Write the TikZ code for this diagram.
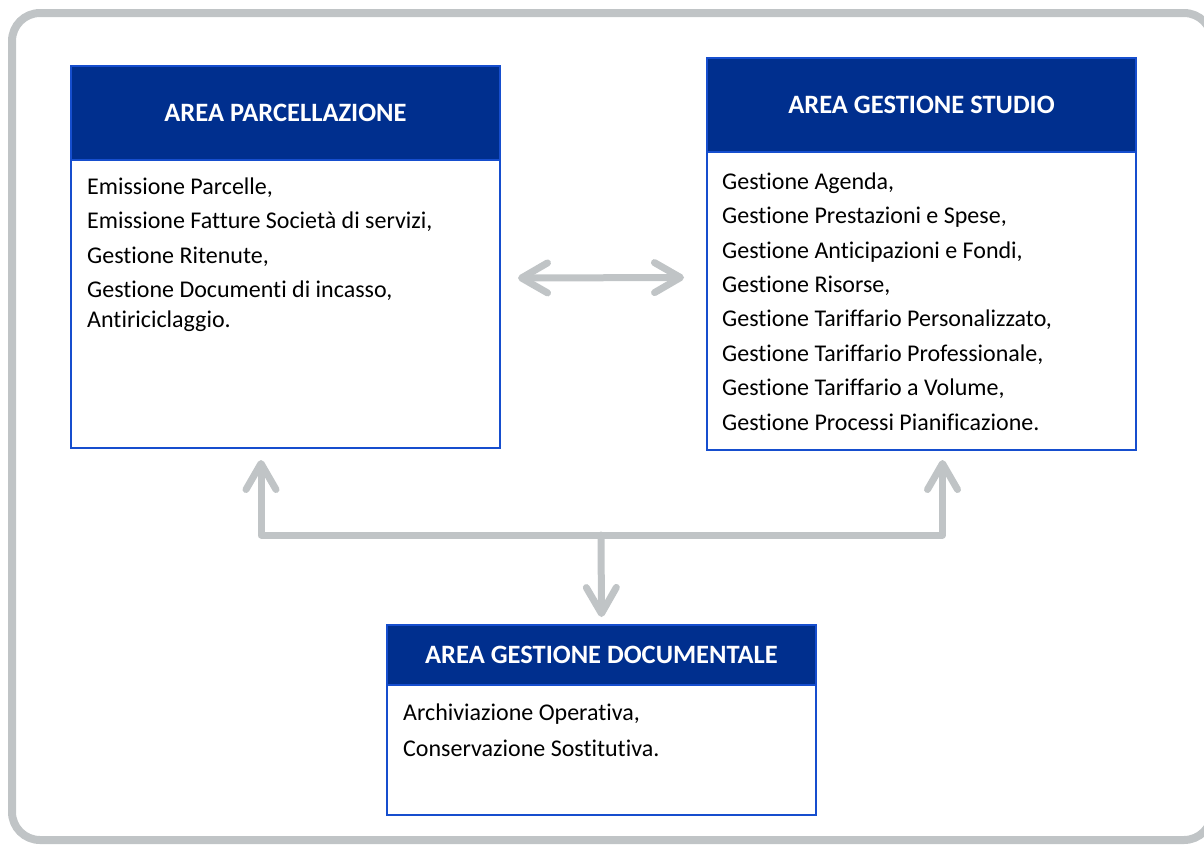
\documentclass[tikz,border=0pt]{standalone}
\usepackage{fontspec}
\setmainfont{Carlito}[Ligatures=NoCommon]
\usetikzlibrary{arrows.meta, positioning, calc}
\definecolor{areablue}{RGB}{0,47,142}
\definecolor{edgeblue}{RGB}{22,78,206}
\definecolor{linkgray}{RGB}{192,196,198}

\begin{document}
\begin{tikzpicture}[x=1pt, y=-1pt, >={Straight Barb[length=26pt, width=30pt, round]},
  head/.style={draw=edgeblue, line width=2.5pt, fill=areablue, text=white, font=\fontsize{26.5}{30}\selectfont\bfseries, minimum width=429pt, inner sep=0pt, outer sep=0pt},
  body/.style={draw=edgeblue, line width=2.5pt, fill=white, minimum width=429pt, inner sep=0pt, outer sep=0pt},
  items/.style={align=left, font=\fontsize{24}{34.4}\selectfont, inner sep=0pt, anchor=base west},
  link/.style={draw=linkgray, line width=7pt, line cap=round, line join=round}]

 % Frame
 \useasboundingbox (0,0) rectangle (1204,844);
 \draw[linkgray, line width=8pt, rounded corners=28pt] (12,13) rectangle (1212,840);

 % Area boxes
 \node[head, minimum height=94pt, anchor=north west] (parcT) at (71,66) {AREA PARCELLAZIONE};
 \node[body, minimum height=288pt, below=0pt of parcT] (parcB) {};
 \node[head, minimum height=94pt, anchor=north west] (studioT) at (707,58) {AREA GESTIONE STUDIO};
 \node[body, minimum height=298pt, below=0pt of studioT] (studioB) {};
 \node[head, minimum height=60pt, anchor=north west] (docT) at (387,625) {AREA GESTIONE DOCUMENTALE};
 \node[body, minimum height=130pt, below=0pt of docT] (docB) {};

 % Contents (anchored at the last baseline)
 \node[items] (parcL) at (87,327) {Emissione Parcelle,\\Emissione Fatture Società di servizi,\\Gestione Ritenute,\\Gestione Documenti di incasso,\\[-5pt]Antiriciclaggio.};
 \node[items] (studioL) at (722,430) {Gestione Agenda,\\Gestione Prestazioni e Spese,\\Gestione Anticipazioni e Fondi,\\Gestione Risorse,\\Gestione Tariffario Personalizzato,\\Gestione Tariffario Professionale,\\Gestione Tariffario a Volume,\\Gestione Processi Pianificazione.};
 \node[items] (docL) at (403,756) {Archiviazione Operativa,\\[1.6pt]Conservazione Sostitutiva.};

 % Links
 \coordinate (hub) at (601,535);
 \draw[link, <->] ([xshift=18pt, yshift=26pt]parcB.east) -- ([xshift=-23pt, yshift=23.5pt]studioB.west);
 \draw[link, ->] (hub) -| ([xshift=-24.5pt, yshift=-12pt]parcB.south);
 \draw[link, ->] (hub) -| ([xshift=21pt, yshift=-10pt]studioB.south);
 \draw[link, ->] (hub) -- ([yshift=8pt]docT.north);

\end{tikzpicture}
\end{document}
